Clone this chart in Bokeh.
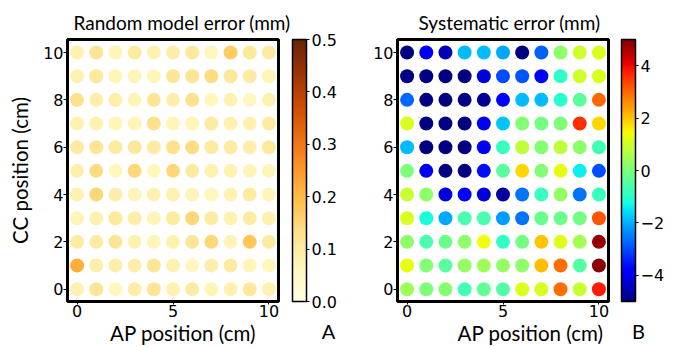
import numpy as np
from bokeh.plotting import figure
from bokeh.models import (ColumnDataSource, LinearColorMapper, ColorBar, FixedTicker,
                          PrintfTickFormatter, CustomJSTickFormatter, Label)
from bokeh.layouts import row
from bokeh.embed import file_html
from bokeh.resources import INLINE

# ---------------- data ----------------
ap_positions = list(range(11))                     # x, cm
cc_positions = [10, 9, 8, 7, 6, 5, 4, 3, 2, 1, 0]  # row order (top to bottom), cm

# Random model error (mm), rows CC=10 ... CC=0, columns AP=0 ... 10
random_error = [
    [0.08, 0.12, 0.07, 0.10, 0.08, 0.09, 0.11, 0.06, 0.17, 0.11, 0.10],
    [0.08, 0.11, 0.07, 0.07, 0.07, 0.12, 0.12, 0.14, 0.11, 0.10, 0.07],
    [0.13, 0.09, 0.09, 0.07, 0.12, 0.09, 0.13, 0.06, 0.08, 0.06, 0.08],
    [0.08, 0.08, 0.07, 0.07, 0.13, 0.07, 0.07, 0.10, 0.08, 0.08, 0.10],
    [0.10, 0.12, 0.10, 0.11, 0.10, 0.13, 0.14, 0.10, 0.10, 0.09, 0.11],
    [0.09, 0.14, 0.06, 0.15, 0.06, 0.15, 0.10, 0.08, 0.08, 0.07, 0.07],
    [0.08, 0.15, 0.09, 0.07, 0.08, 0.08, 0.07, 0.06, 0.08, 0.10, 0.07],
    [0.07, 0.08, 0.11, 0.09, 0.07, 0.10, 0.15, 0.10, 0.08, 0.10, 0.08],
    [0.10, 0.10, 0.12, 0.08, 0.07, 0.08, 0.12, 0.15, 0.07, 0.18, 0.10],
    [0.22, 0.09, 0.09, 0.09, 0.12, 0.08, 0.06, 0.09, 0.10, 0.07, 0.06],
    [0.08, 0.12, 0.06, 0.09, 0.12, 0.08, 0.10, 0.07, 0.08, 0.11, 0.08],
]

# Systematic error (mm), rows CC=10 ... CC=0, columns AP=0 ... 10
systematic_error = [
    [-5.0, -4.0, -4.5, -1.9, -1.9, -2.1, -5.0, -2.8, 0.2, 1.0, 1.1],
    [-5.0, -5.0, -5.0, -5.0, -4.2, -3.0, -2.9, -3.9, -0.9, 1.0, 1.1],
    [-2.7, -5.0, -5.0, -5.0, -4.8, -3.8, -1.9, -1.9, -1.0, -0.4, 3.0],
    [1.1, -5.0, -5.0, -5.0, -4.0, -1.8, 0.1, -0.1, 0.0, 3.6, 1.8],
    [-1.9, -5.0, -5.0, -5.0, -3.9, -0.8, 0.8, 0.1, 0.8, 0.2, -0.7],
    [0.0, -4.0, -5.0, -5.0, -3.6, -0.4, 1.8, 0.1, 1.3, -1.4, -3.0],
    [0.9, 0.2, -4.2, -3.9, -4.2, -4.7, -2.6, -0.8, 0.3, -2.6, -0.8],
    [1.1, -1.2, -2.1, -0.6, -0.6, -2.2, -2.6, -0.2, -0.2, -0.1, 3.2],
    [0.2, -0.6, -0.2, 0.2, 1.4, -0.9, -0.1, 2.0, 1.2, 0.5, 4.8],
    [1.3, 0.1, -0.4, 0.3, 0.4, 0.3, 0.2, 2.1, 2.9, -0.5, 4.9],
    [0.4, 0.0, 0.1, -0.7, -0.3, -0.5, 1.2, 1.1, 2.9, 0.9, 3.8],
]

x_ticks = [0, 5, 10]
y_ticks = [0, 2, 4, 6, 8, 10]
random_ticks = [0.0, 0.1, 0.2, 0.3, 0.4, 0.5]
systematic_ticks = [-4, -2, 0, 2, 4]

# ---------------- colormaps ----------------
def interp_palette(hexes, n=256):
    rgb = np.array([[int(h[i:i + 2], 16) for i in (1, 3, 5)] for h in hexes], float)
    pos = np.linspace(0, 1, len(hexes))
    t = np.linspace(0, 1, n)
    out = []
    for tt in t:
        c = [np.interp(tt, pos, rgb[:, k]) for k in range(3)]
        out.append("#%02x%02x%02x" % tuple(int(round(v)) for v in c))
    return out

def jet_palette(n=256):
    red = [(0, 0), (0.35, 0), (0.66, 1), (0.89, 1), (1, 0.5)]
    green = [(0, 0), (0.125, 0), (0.375, 1), (0.64, 1), (0.91, 0), (1, 0)]
    blue = [(0, 0.5), (0.11, 1), (0.34, 1), (0.65, 0), (1, 0)]
    t = np.linspace(0, 1, n)
    ch = []
    for seg in (red, green, blue):
        ch.append(np.interp(t, [a for a, b in seg], [b for a, b in seg]))
    return ["#%02x%02x%02x" % (int(round(r * 255)), int(round(g * 255)), int(round(b * 255)))
            for r, g, b in zip(*ch)]

ylorbr = interp_palette(["#ffffe5", "#fff7bc", "#fee391", "#fec44f", "#fe9929",
                         "#ec7014", "#cc4c02", "#993404", "#662506"])
jet = jet_palette()

FRAME_W = 211
TICK_FONT = "DejaVu Sans"
LABEL_FONT = "Lato"


def make_panel(values, title, title_offset, mapper, ticks, fmt, letter, letter_x,
               width, left, ylabel, xlabel_x):
    xs, ys, vs = [], [], []
    for r, cc in enumerate(cc_positions):
        for c, ap in enumerate(ap_positions):
            xs.append(ap)
            ys.append(cc)
            vs.append(values[r][c])
    src = ColumnDataSource(dict(x=xs, y=ys, v=vs))

    p = figure(width=width, height=347, x_range=(-0.5, 10.5), y_range=(-0.52, 10.55),
               output_backend="svg", toolbar_location=None,
               min_border_left=left, min_border_right=width - left - FRAME_W,
               min_border_top=39, min_border_bottom=46, title=title)
    p.scatter("x", "y", source=src, size=14, line_color=None,
              fill_color={"field": "v", "transform": mapper})

    p.title.align = "left"
    p.title.offset = title_offset
    p.title.standoff = 12
    p.title.text_font = LABEL_FONT
    p.title.text_font_size = "19px"
    p.title.text_font_style = "normal"
    p.title.text_color = "black"

    p.outline_line_color = "black"
    p.outline_line_width = 3
    p.outline_line_alpha = 1
    p.xgrid.visible = False
    p.ygrid.visible = False

    p.xaxis.ticker = FixedTicker(ticks=x_ticks)
    p.yaxis.ticker = FixedTicker(ticks=y_ticks)
    for ax in (p.xaxis[0], p.yaxis[0]):
        ax.axis_line_color = None
        ax.minor_tick_line_color = None
        ax.major_tick_in = 0
        ax.major_tick_line_color = "black"
        ax.major_label_text_font = TICK_FONT
        ax.major_label_text_font_size = "16px"
        ax.major_label_text_color = "black"
        ax.major_label_standoff = 0
        ax.axis_label_text_font = LABEL_FONT
        ax.axis_label_text_font_size = "20.5px"
        ax.axis_label_text_font_style = "normal"
        ax.axis_label_text_color = "black"
    p.xaxis.major_tick_out = 3
    p.yaxis.major_tick_out = 4
    p.yaxis.axis_label_standoff = 8
    if ylabel:
        p.yaxis.axis_label = ylabel

    # x-axis title, placed under the tick labels
    p.add_layout(Label(x=xlabel_x, y=10.5, x_units="screen", y_units="screen",
                       text="AP position (cm)", text_align="center",
                       text_baseline="alphabetic", text_font=LABEL_FONT,
                       text_font_size="20.5px", text_color="black"), "below")

    # panel letter (also keeps the gap between frame and colour bar)
    p.add_layout(Label(x=letter_x, y=-29, x_units="screen", y_units="screen",
                       text=letter, text_align="center", text_baseline="middle",
                       text_font=LABEL_FONT, text_font_size="20px",
                       text_color="black"), "right")

    cb = ColorBar(color_mapper=mapper, ticker=FixedTicker(ticks=ticks), formatter=fmt,
                  width=14, height=262, padding=0,
                  bar_line_color="black", bar_line_width=1.5,
                  major_tick_line_color="black", major_tick_in=0, major_tick_out=3,
                  minor_tick_line_color=None,
                  major_label_text_font=TICK_FONT, major_label_text_font_size="16px",
                  major_label_text_color="black", label_standoff=2,
                  background_fill_color=None, border_line_color=None)
    p.add_layout(cb, "right")
    return p


m1 = LinearColorMapper(palette=ylorbr, low=0.0, high=0.5)
m2 = LinearColorMapper(palette=jet, low=-5.0, high=5.0)

p1 = make_panel(random_error, "Random model error (mm)", 6, m1, random_ticks,
                PrintfTickFormatter(format="%.1f"), "A", 50, 345, 67,
                "CC position (cm)", 115.5)
p2 = make_panel(systematic_error, "Systematic error (mm)", 21, m2, systematic_ticks,
                CustomJSTickFormatter(code="return tick < 0 ? '\\u2212' + Math.abs(tick) : String(tick);"),
                "B", 30, 332, 52, None, 133)

layout = row(p1, p2)
open("out.html", "w").write(file_html(layout, INLINE))
